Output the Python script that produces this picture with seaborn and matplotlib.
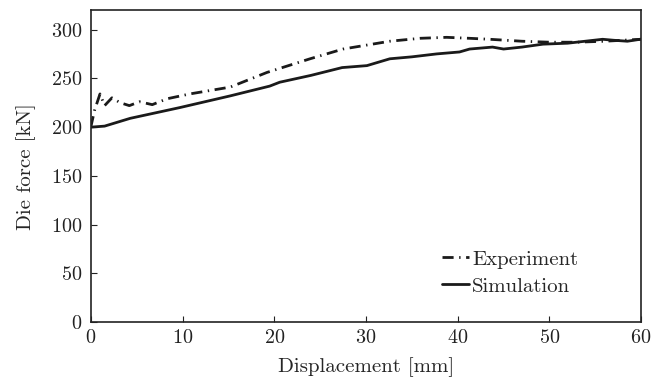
import pandas as pd
import matplotlib
matplotlib.use('Agg')
import matplotlib.pyplot as plt
import seaborn as sns

# Values
exp_x = [0, 0.4, 1.0, 1.5, 2.3, 3.2, 4.2, 5.3, 6.7, 8.3, 10.8, 15.2, 19.2, 23.9, 27.5,
         32.6, 35.9, 38.8, 41.3, 43.5, 47, 50, 53, 56, 58, 60]
exp_y = [200, 217, 234, 222, 230, 225, 222, 226, 223, 229, 234, 241, 256, 270, 280,
         288, 291, 292, 291, 290, 288, 287, 287, 288, 289, 290]

sim_x = [0, 0.1, 1.5, 4.3, 9.7, 15.2, 19.5, 20.6, 24, 27.4, 30.1, 32.6, 35, 37.7, 40.2,
         41.3, 43.8, 45, 47, 49.3, 52, 55.8, 57, 58.5, 59.9, 60]
sim_y = [200, 200, 201, 209, 220, 232, 242, 246, 253, 261, 263, 270, 272, 275, 277,
         280, 282, 280, 282, 285, 286, 290, 289, 288, 290, 290]

df = pd.concat([
    pd.DataFrame({'x': exp_x, 'y': exp_y, 'series': 'Experiment'}),
    pd.DataFrame({'x': sim_x, 'y': sim_y, 'series': 'Simulation'}),
])

sns.set_style('ticks')
plt.rcParams['font.family'] = 'serif'
plt.rcParams['font.serif'] = ['cmr10']
plt.rcParams['mathtext.fontset'] = 'cm'
plt.rcParams['axes.formatter.use_mathtext'] = True

fig, ax = plt.subplots(figsize=(6.63, 3.85), dpi=100)
sns.lineplot(data=df, x='x', y='y', style='series', hue='series',
             palette={'Experiment': '#1a1a1a', 'Simulation': '#1a1a1a'},
             dashes={'Experiment': (4, 2, 0.5, 2), 'Simulation': ''},
             linewidth=2.0, sort=False, estimator=None, ax=ax)

ax.set_xlim(0, 60)
ax.set_ylim(0, 320)
ax.set_xticks([0, 10, 20, 30, 40, 50, 60])
ax.set_yticks([0, 50, 100, 150, 200, 250, 300])
ax.tick_params(direction='in', length=4, width=0.8, labelsize=14.5,
               colors='#222222', pad=6)
ax.tick_params(axis='x', pad=5)
for s in ax.spines.values():
    s.set_linewidth(1.2)
    s.set_color('#222222')
ax.set_xlabel('Displacement [mm]', fontsize=15, labelpad=7)
ax.set_ylabel('Die force [kN]', fontsize=15, labelpad=11)

leg = ax.legend(loc='lower right', bbox_to_anchor=(0.92, 0.025), frameon=False,
                handlelength=1.3, handletextpad=0.15, labelspacing=0.4, fontsize=15)

fig.subplots_adjust(left=0.137, right=0.967, top=0.974, bottom=0.163)
fig.savefig('out.png', dpi=100)
